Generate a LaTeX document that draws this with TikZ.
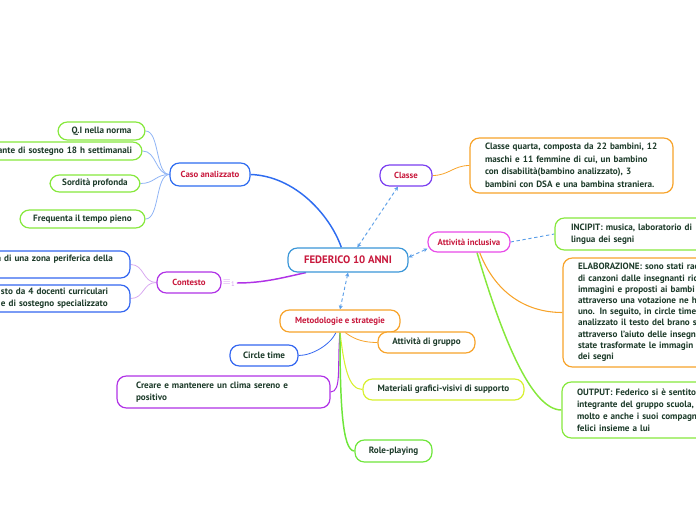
\documentclass[tikz,border=0pt]{standalone}
\usepackage{fontspec}
\setmainfont{PT Sans}
\usetikzlibrary{arrows.meta,backgrounds}
\definecolor{crim}{HTML}{C8183C}
\definecolor{txt}{HTML}{1D3B2A}
\definecolor{rootc}{HTML}{3A96D8}
\definecolor{casoc}{HTML}{2E6CF0}
\definecolor{lgreen}{HTML}{86E83C}
\definecolor{purp}{HTML}{B032E6}
\definecolor{cblue}{HTML}{3366F0}
\definecolor{violet}{HTML}{7A3EF0}
\definecolor{orng}{HTML}{F7A32A}
\definecolor{magen}{HTML}{E84AE8}
\definecolor{yell}{HTML}{D8F030}
\definecolor{rgreen}{HTML}{6EE63A}
\definecolor{iconc}{HTML}{D49AEE}
\definecolor{lblue}{HTML}{90B4F5}
\definecolor{lpurp}{HTML}{D8A8F0}
\definecolor{dashc}{HTML}{5A9EE8}
\newcommand\mmtxt{\fontsize{6.85}{9}\selectfont\bfseries}
\newcommand\mmttl{\fontsize{6.6}{9}\selectfont\bfseries}
\newcommand\mmbig{\fontsize{8.1}{9.5}\selectfont\bfseries}
\tikzset{
  box/.style={draw=#1, line width=0.9pt, rounded corners=7pt, fill=white, text=txt, font=\mmtxt, inner sep=0pt, align=center},
  title/.style={box=#1, text=crim, font=\mmttl},
  thinc/.style={draw=#1, line width=0.6pt},
  mainc/.style={draw=#1, line width=1.1pt},
  darr/.style={draw=dashc, line width=0.7pt, dash pattern=on 2.5pt off 2pt, {Stealth[length=3pt,width=3pt]}-{Stealth[length=3pt,width=3pt]}},
  dline/.style={draw=dashc, line width=0.7pt, dash pattern=on 2.5pt off 2pt},
  iconst/.style={text=iconc, font=\fontsize{7}{7}\selectfont, inner sep=1pt}
}
\begin{document}
\begin{tikzpicture}[x=0.75pt,y=-0.75pt]
\useasboundingbox (0,0) rectangle (696,520);
\clip (0,0) rectangle (696,520);
% root
\node[title=rootc, minimum width=90pt, minimum height=18pt, font=\mmbig] (root) at (348,260) {FEDERICO 10 ANNI};
% caso analizzato
\node[title=casoc, minimum width=60pt, minimum height=17.25pt] (caso) at (210,174.5) {Caso analizzato};
\node[box=lgreen, minimum width=65.25pt, minimum height=13.5pt] (qi) at (101.5,131) {Q.I nella norma};
\node[box=lgreen, minimum width=129pt, minimum height=13.5pt, text width=114pt, inner xsep=7.5pt, align=right] (ins) at (56,151) {ante di sostegno 18 h settimanali};
\node[box=lgreen, minimum width=67.5pt, minimum height=12.75pt] (sord) at (95,183.5) {Sordità profonda};
\node[box=lgreen, minimum width=93.75pt, minimum height=13.5pt] (freq) at (82.5,219) {Frequenta il tempo pieno};
% contesto
\node[title=purp, minimum width=48pt, minimum height=15.75pt] (cont) at (189,282.5) {Contesto};
\node[iconst] (ic) at (229,283) {$\equiv$\textsubscript{1}};
\node[box=cblue, minimum width=106.5pt, minimum height=20.25pt, text width=98.5pt, inner xsep=4pt, align=left] (c1) at (59,264.5) {tà di una zona periferica della\\\mbox{}};
\node[box=cblue, minimum width=106.5pt, minimum height=20.25pt, text width=87pt, inner xsep=9.75pt, align=left] (c2) at (59,298.5) {sto da 4 docenti curriculari\\e di sostegno specializzato};
% classe
\node[title=violet, minimum width=39pt, minimum height=15.75pt] (classe) at (406,175.5) {Classe};
\node[box=orng, minimum width=152.25pt, minimum height=41.25pt, text width=129.75pt, inner xsep=11.25pt, align=left, font=\fontsize{6.85}{9.4}\selectfont\bfseries] (cdesc) at (571.5,165.5) {Classe quarta, composta da 22 bambini, 12\\maschi e 11 femmine di cui, un bambino\\con disabilità(bambino analizzato), 3\\bambini con DSA e una bambina straniera.};
% attivita inclusiva
\node[title=magen, minimum width=61.5pt, minimum height=15pt] (att) at (469,242) {Attività inclusiva};
\node[box=lgreen, minimum width=123.75pt, minimum height=24pt, text width=99.75pt, inner xsep=12pt, align=left] (inc) at (637.5,234) {INCIPIT: musica, laboratorio di\\lingua dei segni};
\node[box=orng, minimum width=132.75pt, minimum height=81.75pt, text width=110.25pt, inner xsep=11.25pt, align=left, font=\fontsize{6.85}{8.4}\selectfont\bfseries] (elab) at (651.5,312.5) {ELABORAZIONE: sono stati rac\\di canzoni dalle insegnanti ric\\immagini e proposti ai bambi\\attraverso una votazione ne h\\uno. In seguito, in circle time,\\analizzato il testo del brano s\\attraverso l'aiuto delle insegn\\state trasformate le immagin\\dei segni};
\node[box=lgreen, minimum width=133.5pt, minimum height=42pt, text width=111pt, inner xsep=11.25pt, align=left] (out) at (651,410) {OUTPUT: Federico si è sentito p\\integrante del gruppo scuola,\\molto e anche i suoi compagn\\felici insieme a lui};
% metodologie
\node[title=orng, minimum width=90pt, minimum height=16.5pt] (met) at (340,321) {Metodologie e strategie};
\node[box=cblue, minimum width=51pt, minimum height=15.75pt] (circ) at (264,355.5) {Circle time};
\node[box=purp, minimum width=159.75pt, minimum height=24pt, text width=131.25pt, inner xsep=14.25pt, align=left] (crea) at (223.5,392) {Creare e mantenere un clima sereno e\\positivo};
\node[box=orng, minimum width=72.75pt, minimum height=15.75pt] (grup) at (426.5,342.5) {Attività di gruppo};
\node[box=yell, minimum width=120.75pt, minimum height=15.75pt] (mat) at (443.5,389.5) {Materiali grafici-visivi di supporto};
\node[box=rgreen, minimum width=57.75pt, minimum height=16.5pt] (role) at (393.5,451) {Role-playing};

\begin{pgfonlayer}{background}
% caso
\draw[thinc=lblue] (caso.west) .. controls +(-14,0) and +(14,0) .. (qi.east);
\draw[thinc=lblue] (caso.west) .. controls +(-14,0) and +(14,0) .. (ins.east);
\draw[thinc=lblue] (caso.west) .. controls +(-14,0) and +(14,0) .. (sord.east);
\draw[thinc=lblue] (caso.west) .. controls +(-14,0) and +(14,0) .. (freq.east);
\draw[mainc=casoc] (caso.east) .. controls (295,176) and (330,215) .. ([xshift=-5pt]root.north);
% contesto
\draw[thinc=lpurp] (cont.west) .. controls +(-14,0) and +(14,0) .. (c1.east);
\draw[thinc=lpurp] (cont.west) .. controls +(-14,0) and +(14,0) .. (c2.east);
\draw[mainc=purp] (ic.east) .. controls (265,283) and (285,277) .. ([xshift=14pt]root.south west);
% classe
\draw[thinc=orng] (classe.east) .. controls +(16,0) and +(-16,0) .. (cdesc.west);
\draw[darr] ([xshift=7pt]root.north) -- ([xshift=-6pt]classe.south);
% attivita
\draw[darr] ([yshift=2pt]root.east) -- ([yshift=-5pt]att.west);
\draw[dline] (att.east) -- (inc.west);
\draw[thinc=orng, line width=0.8pt] ([xshift=8pt]att.south) .. controls (495,292) and (525,312.5) .. (elab.west);
\draw[mainc=lgreen] ([xshift=6pt]att.south) .. controls (500,330) and (530,410) .. (out.west);
% metodologie
\draw[darr] (root.south) -- (met.north);
\draw[thinc=cblue] ([xshift=-3pt]met.south) .. controls (330,345) and (312,355.5) .. (circ.east);
\draw[thinc=purp, line width=0.8pt] (met.south) .. controls (337,365) and (342,392) .. (crea.east);
\draw[thinc=orng] ([xshift=4pt]met.south) .. controls (355,340) and (365,342.5) .. (grup.west);
\draw[thinc=yell, line width=0.8pt] (met.south) .. controls (344,365) and (348,389.5) .. (mat.west);
\draw[mainc=rgreen] (met.south) .. controls (340,400) and (342,451) .. (role.west);
\end{pgfonlayer}
\end{tikzpicture}
\end{document}
